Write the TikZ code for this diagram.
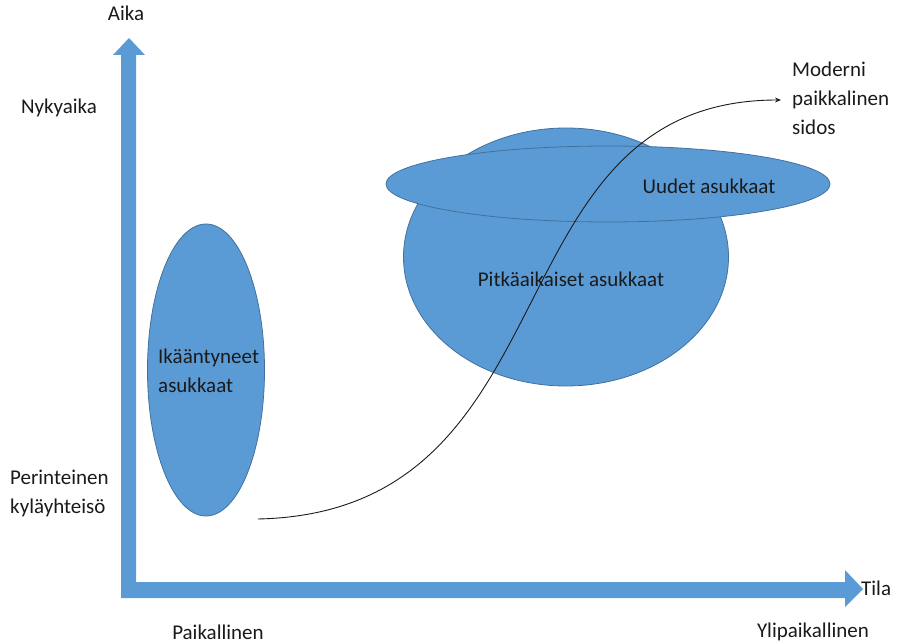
\documentclass[tikz,border=0pt]{standalone}
\usepackage{fontspec}
\setmainfont{Carlito}
\usetikzlibrary{shapes.geometric,arrows.meta}
\definecolor{fillblue}{HTML}{5B9BD5}
\definecolor{edgeblue}{HTML}{41719C}
\definecolor{txt}{HTML}{1A1A1A}
\begin{document}
\begin{tikzpicture}[x=1pt,y=-1pt,
  lbl/.style={font=\fontsize{21}{29}\selectfont, text=txt, inner sep=0pt, align=left},
  blob/.style={ellipse, draw=edgeblue, line width=0.8pt, fill=fillblue, inner sep=0pt},
  axisarrow/.style={fill=fillblue}]
\useasboundingbox (0,0) rectangle (914,644);
% axes
\fill[axisarrow] (121,598) -- (121,55) -- (113,55) -- (129,38) -- (145,55) -- (136,55) -- (136,582) -- (845,582) -- (845,570) -- (863,589) -- (845,607) -- (845,598) -- cycle;
% ellipses
\node[blob, minimum width=117pt, minimum height=292pt] (old) at (206,370) {};
\node[blob, minimum width=325pt, minimum height=258pt] (long) at (566,257) {};
\node[blob, minimum width=444pt, minimum height=76pt] (new) at (608,184) {};
% texts in ellipses
\node[lbl, anchor=west] (oldt) at (158,371) {Ikääntyneet\\asukkaat};
\node[lbl] (longt) at (571,279) {Pitkäaikaiset asukkaat};
\node[lbl] (newt) at (709,186) {Uudet asukkaat};
% labels
\node[lbl] (aika) at (126,13) {Aika};
\node[lbl] (nyky) at (59,108) {Nykyaika};
\node[lbl, anchor=west] (perin) at (10,493) {Perinteinen\\kyläyhteisö};
\node[lbl] (paik) at (218,632) {Paikallinen};
\node[lbl] (ylip) at (813,632) {Ylipaikallinen};
\node[lbl, anchor=west] (tila) at (861,588) {Tila};
\node[lbl, anchor=west] (mod) at (792,98) {Moderni\\paikkalinen\\sidos};
% curve
\coordinate (cs) at (258,519);
\coordinate (ce) at (781,100);
\draw[line width=0.9pt, txt, -{Stealth[length=6pt,width=5pt]}] (cs) .. controls (580,512) and (485,100) .. (ce);
\end{tikzpicture}
\end{document}
